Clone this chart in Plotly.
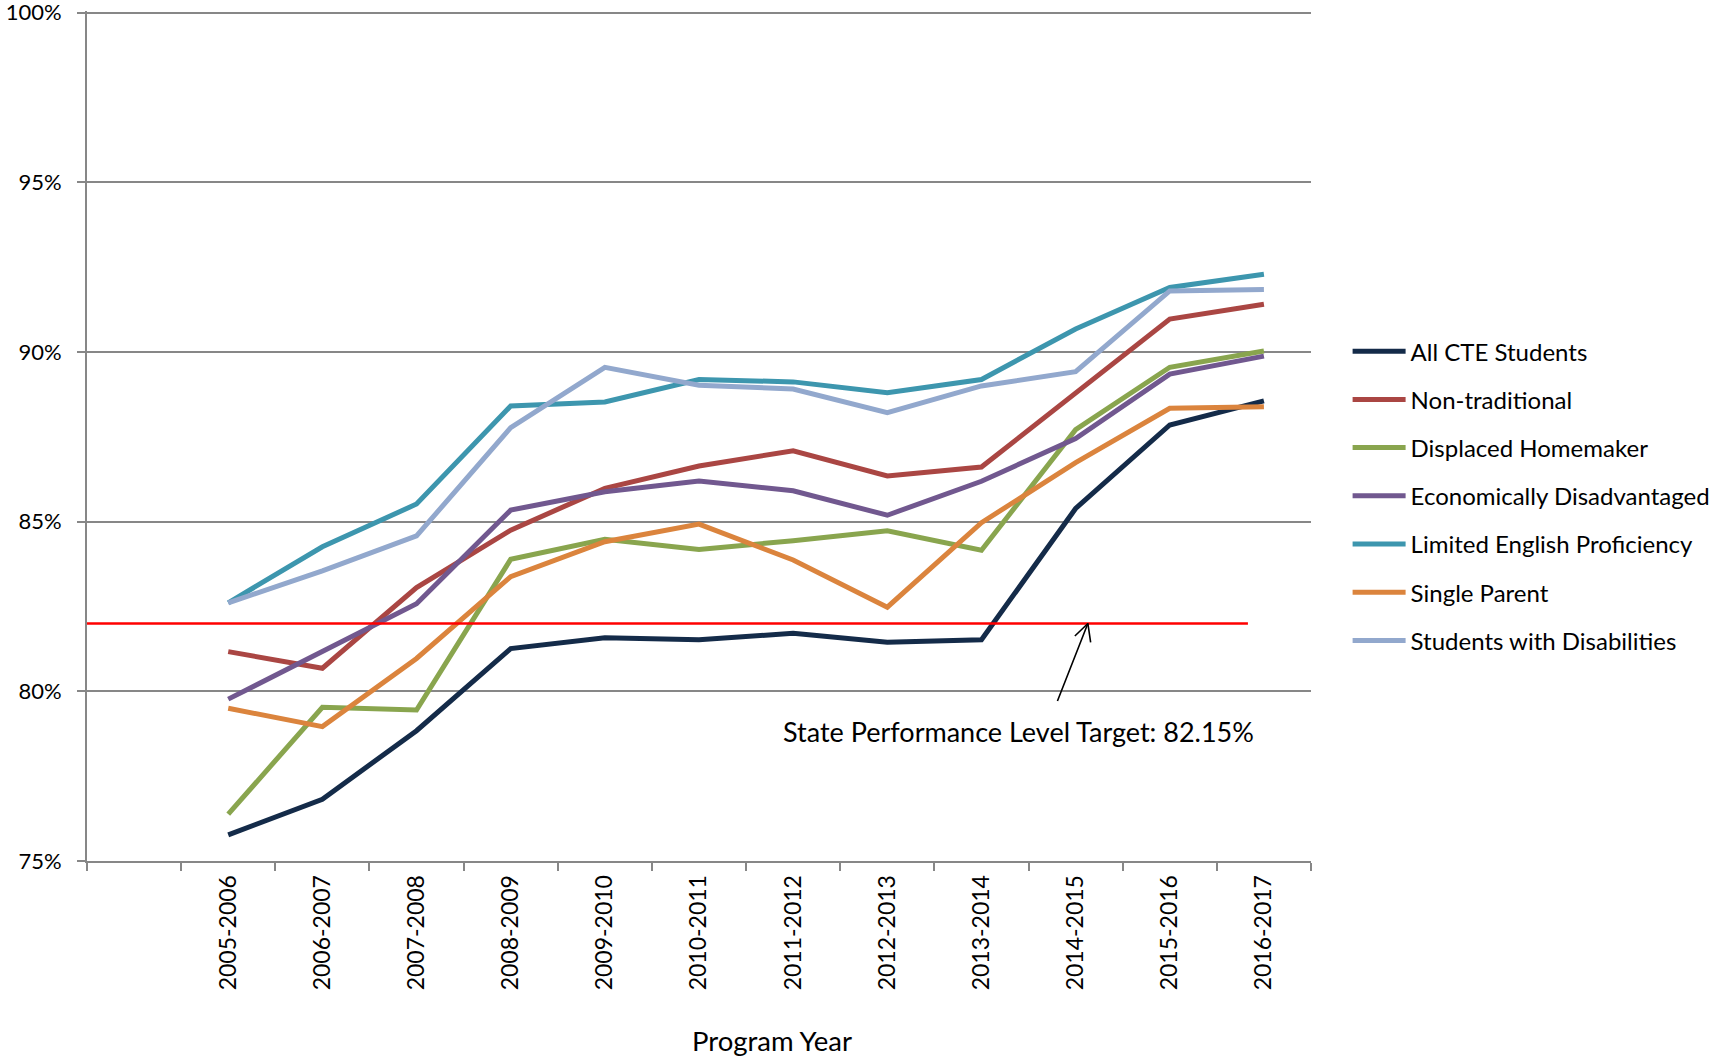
import plotly.graph_objects as go

# ---------------- data ----------------
years = ["2005-2006", "2006-2007", "2007-2008", "2008-2009", "2009-2010", "2010-2011",
         "2011-2012", "2012-2013", "2013-2014", "2014-2015", "2015-2016", "2016-2017"]

all_cte = [75.77, 76.82, 78.84, 81.26, 81.58, 81.52, 81.71, 81.45, 81.52, 85.39, 87.85, 88.56]
non_traditional = [81.17, 80.68, 83.06, 84.75, 85.98, 86.64, 87.09, 86.35, 86.61, 88.77, 90.97, 91.41]
displaced_homemaker = [76.38, 79.53, 79.45, 83.89, 84.48, 84.18, 84.44, 84.73, 84.16, 87.71, 89.55, 90.03]
econ_disadvantaged = [79.77, 81.16, 82.58, 85.34, 85.88, 86.20, 85.91, 85.19, 86.19, 87.45, 89.35, 89.88]
limited_english = [82.61, 84.26, 85.52, 88.41, 88.53, 89.19, 89.12, 88.80, 89.19, 90.68, 91.90, 92.29]
single_parent = [79.50, 78.96, 80.97, 83.38, 84.41, 84.93, 83.87, 82.48, 84.97, 86.74, 88.34, 88.39]
disabilities = [82.61, 83.55, 84.58, 87.77, 89.55, 89.02, 88.91, 88.21, 89.00, 89.42, 91.80, 91.84]

series_names = ["All CTE Students", "Non-traditional", "Displaced Homemaker",
                "Economically Disadvantaged", "Limited English Proficiency",
                "Single Parent", "Students with Disabilities"]
series_values = [all_cte, non_traditional, displaced_homemaker, econ_disadvantaged,
                 limited_english, single_parent, disabilities]
series_colors = ["#142B49", "#AA4643", "#89A54E", "#71588F", "#3D96AE", "#DB843D", "#92A8CD"]

target_value = 82.0          # drawn level of the target line
target_label = "State Performance Level Target: 82.15%"

y_ticks = [75, 80, 85, 90, 95, 100]
categories = [" "] + years   # first slot left empty, as in the reference

FONT = "Lato"
GRID = "#878787"

fig = go.Figure()
for i, (name, vals, col) in enumerate(zip(series_names, series_values, series_colors)):
    fig.add_trace(go.Scatter(
        x=years, y=vals, mode="lines", name=name,
        line=dict(color=col, width=5), legendgroup=f"g{i}",
    ))

# target line
fig.add_shape(type="line", xref="x", yref="y", x0=-0.5, x1=11.83,
              y0=target_value, y1=target_value, line=dict(color="#FF0000", width=2.6), layer="above")

# arrow: shaft plus two thin arms forming an open head
ARROW_TIP_X = 10.13
for ax_off, ay_off in [(-31, 79), (-14.5, 14), (3, 20.5)]:
    fig.add_annotation(x=ARROW_TIP_X, y=target_value, xref="x", yref="y", text="", showarrow=True,
                       ax=ax_off, ay=ay_off, arrowhead=0, arrowwidth=1.6, arrowcolor="#000000",
                       standoff=0)
# label
fig.add_annotation(x=9.39, y=78.83, xref="x", yref="y", text=target_label, showarrow=False,
                   xanchor="center", yanchor="middle", font=dict(family=FONT, size=27, color="#000000"))

# x-axis title
fig.add_annotation(x=0.5597, y=-0.2117, xref="paper", yref="paper", text="Program Year", showarrow=False,
                   xanchor="center", yanchor="middle",
                   font=dict(family=FONT, size=27.5, color="#000000"))

fig.update_layout(
    width=1717, height=1058,
    margin=dict(l=86.7, r=406, t=10.8, b=197, autoexpand=False),
    paper_bgcolor="white", plot_bgcolor="white",
    font=dict(family=FONT, size=22, color="#000000"),
    showlegend=True,
    legend=dict(
        x=1.0299, xanchor="left", y=0.4293, yanchor="middle",
        font=dict(family=FONT, size=24, color="#000000"),
        traceorder="grouped", tracegroupgap=14, itemwidth=53,
        bgcolor="rgba(0,0,0,0)", borderwidth=0,
    ),
    xaxis=dict(
        type="category", categoryorder="array", categoryarray=categories,
        range=[-0.5, 12.5], tickson="boundaries", ticks="outside", ticklen=8,
        tickcolor=GRID, tickwidth=1.5, showline=True, linecolor=GRID, linewidth=1.8,
        showgrid=False, tickangle=-90, ticklabelstandoff=3,
        tickfont=dict(family=FONT, size=23, color="#000000"), zeroline=False,
    ),
    yaxis=dict(
        range=[75, 100.05], tickmode="array", tickvals=y_ticks,
        ticktext=[f"{v}%" for v in y_ticks], ticks="outside", ticklen=8,
        tickcolor=GRID, tickwidth=1.6, showline=True, linecolor=GRID, linewidth=1.8,
        showgrid=True, gridcolor=GRID, gridwidth=1.6, zeroline=False, ticklabelstandoff=11,
        ticklabeloverflow="allow",
        tickfont=dict(family=FONT, size=22, color="#000000"),
    ),
)

fig.write_html("out.html", post_script="document.body.style.margin='0';",
               config={"displayModeBar": False})
